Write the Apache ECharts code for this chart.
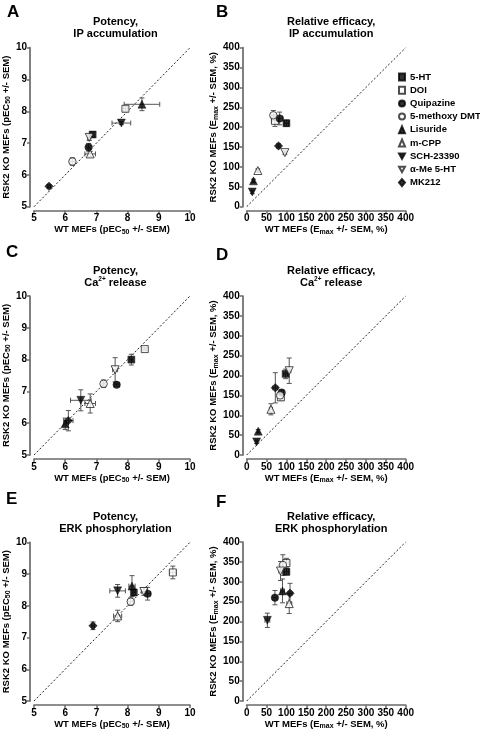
<!DOCTYPE html>
<html>
<head>
<meta charset="utf-8">
<script src="https://cdn.jsdelivr.net/npm/echarts@6/dist/echarts.min.js"></script>
<style>html,body{margin:0;padding:0;background:#fff}#c{width:480px;height:731px}</style>
</head>
<body>
<div id="c"></div>
<script>
// ---------- DATA ----------
const compounds = ['5-HT','DOI','Quipazine','5-methoxy DMT','Lisuride','m-CPP','SCH-23390','α-Me 5-HT','MK212'];

// Panel A: Potency, IP accumulation (pEC50)
const ipPotWT    = [6.88, 7.93, 6.75, 6.23, 8.46, 6.80, 7.80, 6.77, 5.48];
const ipPotKO    = [7.27, 8.08, 6.87, 6.42, 8.22, 6.66, 7.63, 7.18, 5.64];
const ipPotWTerr = [0.05, 0.06, 0.05, 0.08, 0.57, 0.17, 0.30, 0.05, 0.05];
const ipPotKOerr = [0.08, 0.08, 0.12, 0.12, 0.20, 0.08, 0.05, 0.10, 0.05];

// Panel B: Relative efficacy, IP accumulation (Emax %)
const ipEffWT    = [100, 71, 83, 67, 17, 28, 14, 96, 80];
const ipEffKO    = [210, 216, 222, 230, 65, 91, 37, 136, 153];
const ipEffWTerr = [5, 8, 8, 6, 2, 2, 2, 3, 4];
const ipEffKOerr = [8, 14, 16, 12, 4, 4, 4, 4, 5];

// Panel C: Potency, Ca2+ release
const caPotWT    = [8.12, 8.55, 7.65, 7.23, 6.00, 6.80, 6.50, 7.60, 6.10];
const caPotKO    = [8.00, 8.33, 7.21, 7.24, 5.98, 6.62, 6.72, 7.68, 6.08];
const caPotWTerr = [0.05, 0.06, 0.08, 0.05, 0.05, 0.17, 0.33, 0.08, 0.15];
const caPotKOerr = [0.17, 0.05, 0.05, 0.12, 0.18, 0.30, 0.33, 0.38, 0.32];

// Panel D: Relative efficacy, Ca2+ release
const caEffWT    = [98, 86, 88, 84, 29, 61, 25, 107, 72];
const caEffKO    = [204, 145, 157, 150, 60, 115, 33, 212, 169];
const caEffWTerr = [5, 5, 4, 3, 2, 4, 2, 4, 6];
const caEffKOerr = [12, 8, 6, 5, 4, 14, 4, 32, 38];

// Panel E: Potency, ERK phosphorylation
const erkPotWT    = [8.20, 9.45, 8.64, 8.10, 8.14, 7.68, 7.68, 8.52, 6.89];
const erkPotKO    = [8.42, 9.05, 8.38, 8.13, 8.62, 7.68, 8.47, 8.45, 7.37];
const erkPotWTerr = [0.05, 0.10, 0.10, 0.10, 0.10, 0.13, 0.25, 0.08, 0.05];
const erkPotKOerr = [0.10, 0.20, 0.20, 0.12, 0.33, 0.18, 0.20, 0.12, 0.12];

// Panel F: Relative efficacy, ERK phosphorylation
const erkEffWT    = [100, 100, 71, 91, 90, 107, 52, 85, 109];
const erkEffKO    = [325, 347, 260, 342, 277, 245, 203, 327, 271];
const erkEffWTerr = [5, 6, 5, 6, 5, 6, 6, 4, 5];
const erkEffKOerr = [8, 12, 18, 26, 30, 25, 18, 24, 25];

// Axis ticks
const potRange = [5, 10, 1];
const effRange = [0, 400, 50];
const potDiag = [[5, 5], [10, 10]];
const effDiag = [[0, 0], [400, 400]];

// ---------- LAYOUT / STYLE ----------
const DOWN = 'path://M0,0 L10,0 L5,9 Z';
const symbols = ['rect','rect','circle','circle','triangle','triangle',DOWN,DOWN,'diamond'];
const sizes   = [7, 7, 7.5, 7.5, 8, 8, 8, 8, 8.5];
const filled  = [true,false,true,false,true,false,true,false,true];

const panels = [
  {letter:'A', t1:'Potency,', t2:'IP accumulation', wt:ipPotWT, ko:ipPotKO, we:ipPotWTerr, ke:ipPotKOerr, pot:true,  left:31,  top:47.7, lx:2, ly:-1},
  {letter:'B', t1:'Relative efficacy,', t2:'IP accumulation', wt:ipEffWT, ko:ipEffKO, we:ipEffWTerr, ke:ipEffKOerr, pot:false, left:246.7, top:47.7, lx:211, ly:-1},
  {letter:'C', t1:'Potency,', t2:'{n|Ca}{sup|2+}{n| release}', wt:caPotWT, ko:caPotKO, we:caPotWTerr, ke:caPotKOerr, pot:true, left:31, top:296, lx:1, ly:239},
  {letter:'D', t1:'Relative efficacy,', t2:'{n|Ca}{sup|2+}{n| release}', wt:caEffWT, ko:caEffKO, we:caEffWTerr, ke:caEffKOerr, pot:false, left:246.7, top:296, lx:211, ly:242},
  {letter:'E', t1:'Potency,', t2:'ERK phosphorylation', wt:erkPotWT, ko:erkPotKO, we:erkPotWTerr, ke:erkPotKOerr, pot:true, left:31, top:542.3, lx:1, ly:486},
  {letter:'F', t1:'Relative efficacy,', t2:'ERK phosphorylation', wt:erkEffWT, ko:erkEffKO, we:erkEffWTerr, ke:erkEffKOerr, pot:false, left:246.7, top:542, lx:211, ly:489}
];
const W = 159, H = 159;
const FONT = 'Liberation Sans, Arial, sans-serif';
const axisColor = '#6a6a6a';

const rich = {
  n:{fontSize:9.5, fontWeight:'bold', color:'#000', fontFamily:FONT, lineHeight:12},
  sub:{fontSize:7, fontWeight:'bold', color:'#000', fontFamily:FONT, verticalAlign:'bottom', lineHeight:8, padding:[4,0,0,0]},
  sup:{fontSize:6.5, fontWeight:'bold', color:'#000', fontFamily:FONT, verticalAlign:'top', lineHeight:8, padding:[0,0,5,0]}
};
const titleRich = {
  n:{fontSize:11, fontWeight:'bold', color:'#000', fontFamily:FONT, lineHeight:12},
  sup:{fontSize:6.5, fontWeight:'bold', color:'#000', fontFamily:FONT, lineHeight:12, padding:[0,0,6,0]}
};

const grid = [], xAxis = [], yAxis = [], series = [], title = [];
panels.forEach((p, i) => {
  grid.push({left:p.left, top:p.top, width:W, height:H});
  const r = p.pot ? potRange : effRange;
  const axBase = {
    min:r[0], max:r[1], interval:r[2], gridIndex:i, offset:4,
    axisLine:{show:true, onZero:false, lineStyle:{color:axisColor, width:1.7}},
    axisTick:{show:true, length:3, lineStyle:{color:axisColor, width:1.5}},
    axisLabel:{fontSize:10, fontWeight:'bold', color:'#000', fontFamily:FONT, margin:3},
    splitLine:{show:false},
    nameLocation:'middle',
    nameTextStyle:{rich:rich}
  };
  const xn = p.pot ? '{n|WT MEFs (pEC}{sub|50}{n| +/- SEM)}' : '{n|WT MEFs (E}{sub|max}{n| +/- SEM, %)}';
  const yn = p.pot ? '{n|RSK2 KO MEFs (pEC}{sub|50}{n| +/- SEM)}' : '{n|RSK2 KO MEFs (E}{sub|max}{n| +/- SEM, %)}';
  xAxis.push(Object.assign({}, axBase, {type:'value', name:xn, nameGap:13}));
  yAxis.push(Object.assign({}, axBase, {type:'value', name:yn, nameGap:p.pot ? 12 : 17}));

  title.push({text:'{n|'+p.t1+'}\n' + (p.t2.startsWith('{') ? p.t2 : '{n|'+p.t2+'}'),
    left:p.left + W/2, top:p.top - 36.5, textAlign:'center',
    textStyle:{rich:titleRich, fontSize:11, fontWeight:'bold', lineHeight:12}});
  title.push({text:p.letter, left:p.lx, top:p.ly,
    textStyle:{fontSize:17, fontWeight:'bold', color:'#000', fontFamily:FONT}});

  // identity line
  series.push({type:'line', xAxisIndex:i, yAxisIndex:i, data:p.pot ? potDiag : effDiag,
    symbol:'none', silent:true, z:1,
    lineStyle:{color:'#222', width:1, type:[2,2]}});

  // error bars
  const errData = compounds.map((c, k) => [p.wt[k], p.ko[k], p.we[k], p.ke[k], k]);
  series.push({type:'custom', xAxisIndex:i, yAxisIndex:i, data:errData, z:2, silent:true,
    encode:{x:0, y:1},
    renderItem:function(params, api){
      const x = api.value(0), y = api.value(1), xe = api.value(2), ye = api.value(3);
      const c = api.coord([x, y]);
      const l = api.coord([x - xe, y]), rr = api.coord([x + xe, y]);
      const t = api.coord([x, y + ye]), b = api.coord([x, y - ye]);
      const cap = 2.5;
      const st = {stroke:'#555', lineWidth:1, fill:null};
      return {type:'group', children:[
        {type:'line', shape:{x1:l[0], y1:c[1], x2:rr[0], y2:c[1]}, style:st},
        {type:'line', shape:{x1:l[0], y1:c[1]-cap, x2:l[0], y2:c[1]+cap}, style:st},
        {type:'line', shape:{x1:rr[0], y1:c[1]-cap, x2:rr[0], y2:c[1]+cap}, style:st},
        {type:'line', shape:{x1:c[0], y1:t[1], x2:c[0], y2:b[1]}, style:st},
        {type:'line', shape:{x1:c[0]-cap, y1:t[1], x2:c[0]+cap, y2:t[1]}, style:st},
        {type:'line', shape:{x1:c[0]-cap, y1:b[1], x2:c[0]+cap, y2:b[1]}, style:st}
      ]};
    }});

  compounds.forEach((c, k) => {
    series.push({type:'scatter', name:c, xAxisIndex:i, yAxisIndex:i, z:3,
      data:[[p.wt[k], p.ko[k]]],
      symbol:symbols[k], symbolSize:sizes[k],
      itemStyle: filled[k] ? {color:'#000', borderColor:'#000', borderWidth:0.5}
                           : {color:'#fff', borderColor:'#222', borderWidth:1},
      emphasis:{disabled:true}});
  });
});

const chart = echarts.init(document.getElementById('c'), null, {renderer:'canvas'});
chart.setOption({
  animation:false,
  backgroundColor:'#fff',
  textStyle:{fontFamily:FONT},
  title:title,
  grid:grid, xAxis:xAxis, yAxis:yAxis,
  legend:{data:compounds, orient:'vertical', left:398, top:72, itemWidth:6, itemHeight:7, itemGap:3.2,
    selectedMode:false, padding:0,
    textStyle:{fontSize:9.5, fontWeight:'bold', color:'#000', fontFamily:FONT}},
  series:series
});
</script>
</body>
</html>
